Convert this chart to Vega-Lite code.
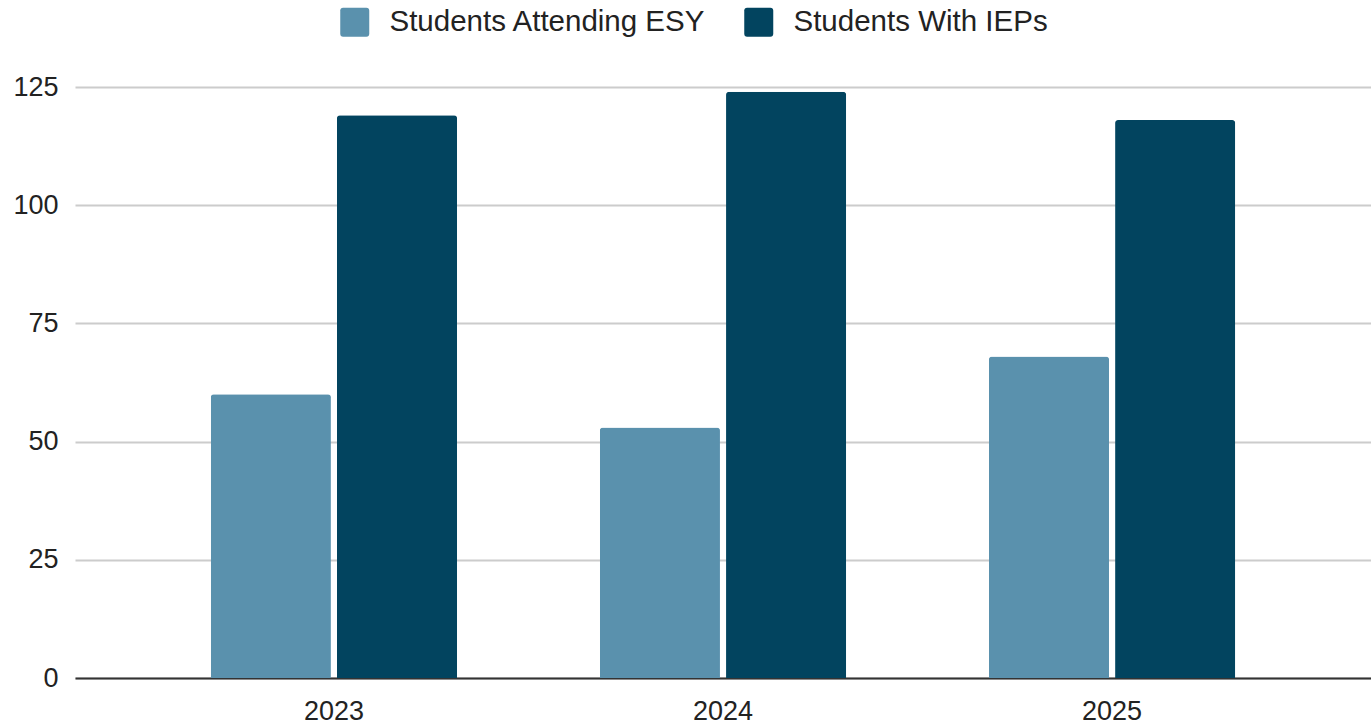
{
  "$schema": "https://vega.github.io/schema/vega-lite/v6.json",
  "width": 1296,
  "height": 591,
  "autosize": {"type": "none"},
  "padding": {"left": 75, "top": 87, "right": 0, "bottom": 46},
  "background": "white",
  "config": {
    "view": {"stroke": null},
    "font": "Liberation Sans"
  },
  "data": {
    "values": [
      {"year": "2023", "series": "Students Attending ESY", "count": 60},
      {"year": "2023", "series": "Students With IEPs", "count": 119},
      {"year": "2024", "series": "Students Attending ESY", "count": 53},
      {"year": "2024", "series": "Students With IEPs", "count": 124},
      {"year": "2025", "series": "Students Attending ESY", "count": 68},
      {"year": "2025", "series": "Students With IEPs", "count": 118}
    ]
  },
  "mark": {"type": "bar", "cornerRadiusTopLeft": 3, "cornerRadiusTopRight": 3},
  "encoding": {
    "x": {
      "field": "year",
      "type": "nominal",
      "scale": {"paddingInner": 0.367, "paddingOuter": 0.349},
      "axis": {
        "title": null,
        "labelAngle": 0,
        "ticks": false,
        "domainColor": "#333333",
        "domainWidth": 2,
        "labelFontSize": 27,
        "labelColor": "#222222",
        "labelPadding": 20,
        "grid": false
      }
    },
    "xOffset": {
      "field": "series",
      "type": "nominal",
      "sort": ["Students Attending ESY", "Students With IEPs"],
      "scale": {"paddingInner": 0.048, "paddingOuter": 0}
    },
    "y": {
      "field": "count",
      "type": "quantitative",
      "scale": {"domain": [0, 125], "nice": false},
      "axis": {
        "values": [0, 25, 50, 75, 100, 125],
        "title": null,
        "domain": false,
        "ticks": false,
        "gridColor": "#cccccc",
        "gridWidth": 2,
        "labelFontSize": 27,
        "labelColor": "#222222",
        "labelPadding": 17
      }
    },
    "color": {
      "field": "series",
      "type": "nominal",
      "scale": {
        "domain": ["Students Attending ESY", "Students With IEPs"],
        "range": ["#5a91ad", "#02445f"]
      },
      "legend": {
        "title": null,
        "orient": "none",
        "direction": "horizontal",
        "legendX": 265,
        "legendY": -80,
        "symbolType": "M -0.8 -1 L 0.8 -1 Q 1 -1 1 -0.8 L 1 0.8 Q 1 1 0.8 1 L -0.8 1 Q -1 1 -1 0.8 L -1 -0.8 Q -1 -1 -0.8 -1 Z",
        "symbolSize": 841,
        "symbolStrokeWidth": 0,
        "labelFontSize": 29.5,
        "labelColor": "#222222",
        "labelOffset": 20,
        "columnPadding": 37,
        "labelLimit": 500
      }
    }
  }
}
